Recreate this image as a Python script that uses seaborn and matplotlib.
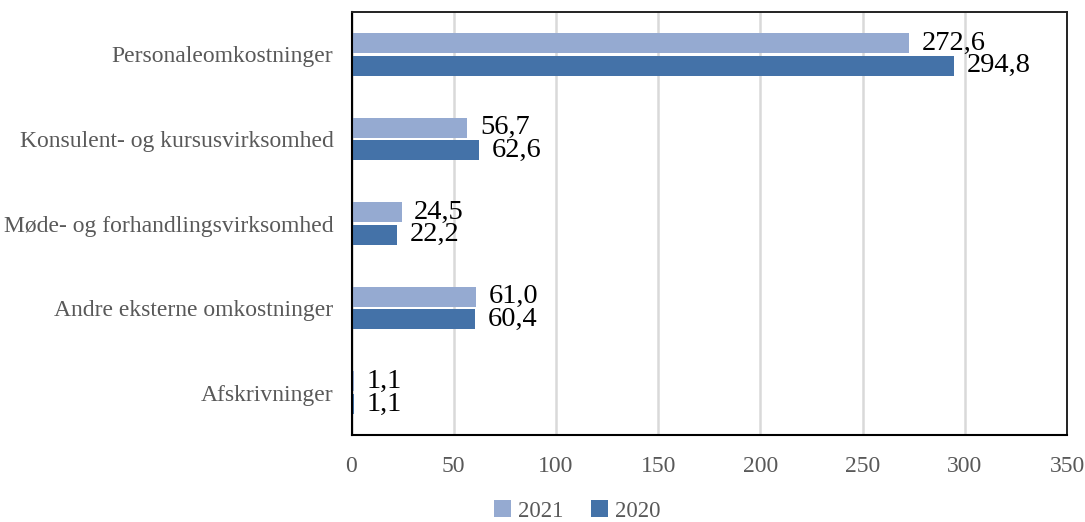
import matplotlib
matplotlib.use("Agg")
import matplotlib.pyplot as plt
import seaborn as sns
import pandas as pd
from matplotlib.patches import Patch

categories = ["Personaleomkostninger", "Konsulent- og kursusvirksomhed",
              "Møde- og forhandlingsvirksomhed", "Andre eksterne omkostninger",
              "Afskrivninger"]
values_2021 = [272.6, 56.7, 24.5, 61.0, 1.1]
values_2020 = [294.8, 62.6, 22.2, 60.4, 1.1]
years = ["2021", "2020"]
xticks = [0, 50, 100, 150, 200, 250, 300, 350]

colors = {"2021": "#95AAD1", "2020": "#4472A8"}

df = pd.DataFrame({
    "category": categories * 2,
    "value": values_2021 + values_2020,
    "year": ["2021"] * len(categories) + ["2020"] * len(categories),
})

sns.set_theme(style="white")
plt.rcParams["font.family"] = ["Liberation Serif", "DejaVu Serif"]

fig = plt.figure(figsize=(10.85, 5.22), dpi=100)
ax = fig.add_axes([351.5/1085, 1-435/522, (1067-351.5)/1085, (435-12)/522])

sns.barplot(data=df, x="value", y="category", hue="year", hue_order=years,
            order=categories, orient="h", palette=colors, width=0.532, gap=0.113,
            ax=ax, legend=False, saturation=1, linewidth=0, zorder=3)

ax.set_xlim(0, 350)
ax.set_xticks(xticks)
ax.set_xticklabels([str(t) for t in xticks])
ax.set_xlabel("")
ax.set_ylabel("")
ax.grid(axis="x", color="#D9D9D9", linewidth=1.8)
ax.grid(axis="y", visible=False)
ax.set_axisbelow(True)

for side in ["left", "bottom"]:
    ax.spines[side].set_color("black")
    ax.spines[side].set_linewidth(1.5)
for side in ["top", "right"]:
    ax.spines[side].set_color("#222222")
    ax.spines[side].set_linewidth(1.4)
for sp in ax.spines.values():
    sp.set_zorder(4)

ax.tick_params(axis="y", length=0, pad=13, labelsize=17, labelcolor="#595959")
ax.tick_params(axis="x", length=0, pad=15, labelsize=17, labelcolor="#595959")

for cont, yr in zip(ax.containers, years):
    vals = values_2021 if yr == "2021" else values_2020
    ax.bar_label(cont, labels=[f"{v:.1f}".replace(".", ",") for v in vals],
                 padding=9, fontsize=20.5, color="black")

handles = [Patch(facecolor=colors[y], edgecolor="none", label=y) for y in years]
leg = fig.legend(handles=handles, loc="center", bbox_to_anchor=(577/1085, 1-511/522),
                 ncol=2, frameon=False, fontsize=16.5, handlelength=0.75, handleheight=0.75,
                 handletextpad=0.3, columnspacing=1.2, borderpad=0.1)
for t in leg.get_texts():
    t.set_color("#595959")

fig.savefig("out.png", dpi=100)
